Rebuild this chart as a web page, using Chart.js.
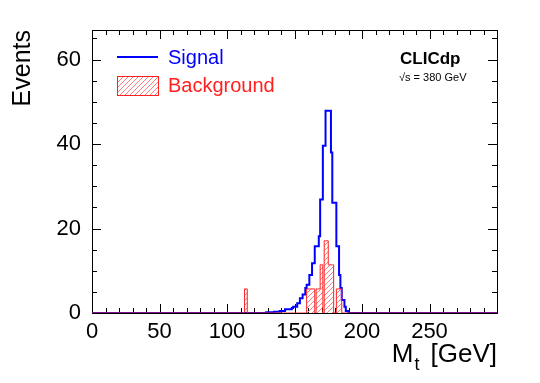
<!DOCTYPE html>
<html lang="en">
<head>
<meta charset="UTF-8">
<title>Reconstructed top mass</title>
<script src="https://cdn.jsdelivr.net/npm/chart.js"></script>
<style>
  html, body { margin: 0; padding: 0; background: #fff; }
  canvas { display: block; }
</style>
</head>
<body>
<canvas id="massChart" width="540" height="383"></canvas>
<script>
// histogram range and binning (GeV)
const histMin = 0;
const histMax = 300;
const binStart = 110;
const binWidth = 1;

// bin contents, one value per 1 GeV bin from binStart (110..199)
const signal = [
  0, 0, 0, 0, 0, 0, 0, 0, 0, 0,
  0, 0, 0, 0, 0, 0, 0, 0, 0, 0,
  0.2, 0.2, 0.2, 0.2, 0.2, 0.2, 0.3, 0.3, 0.3, 0.3,
  0.5, 0.5, 0.5, 0.5, 0.9, 0.9, 0.9, 0.9, 0.9, 1.2,
  1.5, 1.5, 1.5, 2.3, 2.3, 3.5, 3.5, 4.4, 4.4, 5.9,
  6.7, 6.7, 9.0, 9.0, 11.8, 11.8, 15.8, 15.8, 15.8, 18.2,
  26.9, 26.9, 39.6, 39.6, 47.9, 47.9, 47.9, 47.9, 38.0, 26.1,
  26.1, 26.1, 15.8, 15.8, 9.0, 5.9, 3.1, 3.1, 1.5, 0.5,
  0.5, 0, 0, 0, 0, 0, 0, 0, 0, 0
];
const background = [
  0, 0, 0, 0, 5.7, 5.7, 0, 0, 0, 0,
  0, 0, 0, 0, 0, 0, 0, 0, 0, 0,
  0, 0, 0, 0, 0, 0, 0, 0, 0, 0,
  0, 0, 0, 0, 0, 0, 0, 0, 0, 0,
  0, 0, 0, 0, 0, 0, 0, 0, 0, 0,
  5.7, 5.7, 5.7, 5.7, 5.7, 5.7, 0, 5.7, 5.7, 5.7,
  11.4, 11.4, 0, 17.1, 17.1, 17.1, 11.4, 11.4, 11.4, 11.4,
  0, 0, 5.7, 5.7, 5.7, 5.7, 0, 0, 0, 0,
  0, 0, 0, 0, 0, 0, 0, 0, 0, 0
];

const xLabels = [0, 50, 100, 150, 200, 250];
const yLabels = [0, 20, 40, 60];
const yMax = 67;
const xMajor = 50, xMinor = 10;
const yMajor = 20, yMinor = 5;

const FONT = '"Liberation Sans", Arial, Helvetica, sans-serif';

function histPoints(values) {
  const pts = [{ x: histMin, y: 0 }];
  values.forEach((v, i) => pts.push({ x: binStart + i * binWidth, y: v }));
  pts.push({ x: binStart + values.length * binWidth, y: 0 });
  pts.push({ x: histMax, y: 0 });
  return pts;
}

const canvas = document.getElementById('massChart');
const ctx = canvas.getContext('2d');

// "////" hatch like ROOT fill style 3004
function hatch(color) {
  const s = 5;
  const c = document.createElement('canvas');
  c.width = c.height = s;
  const g = c.getContext('2d');
  g.strokeStyle = color;
  g.lineWidth = 1;
  g.beginPath();
  g.moveTo(0, s); g.lineTo(s, 0);
  g.moveTo(-s, s); g.lineTo(s, -s);
  g.moveTo(0, 2 * s); g.lineTo(2 * s, 0);
  g.stroke();
  return ctx.createPattern(c, 'repeat');
}
const bgHatch = hatch('#ff8080');

// frame + inward ticks on all four sides
const framePlugin = {
  id: 'frame',
  beforeDatasetsDraw(chart) {
    const { ctx, chartArea: a, scales: { x, y } } = chart;
    ctx.save();
    ctx.strokeStyle = '#000';
    ctx.lineWidth = 1;
    ctx.beginPath();
    for (let v = histMin; v <= histMax; v += xMinor) {
      const px = Math.round(x.getPixelForValue(v)) + 0.5;
      const len = v % xMajor === 0 ? 9 : 5;
      ctx.moveTo(px, a.bottom); ctx.lineTo(px, a.bottom - len);
      ctx.moveTo(px, a.top); ctx.lineTo(px, a.top + len);
    }
    for (let v = 0; v <= yMax; v += yMinor) {
      const py = Math.round(y.getPixelForValue(v)) + 0.5;
      const len = v % yMajor === 0 ? 9 : 5;
      ctx.moveTo(a.left, py); ctx.lineTo(a.left + len, py);
      ctx.moveTo(a.right, py); ctx.lineTo(a.right - len, py);
    }
    ctx.stroke();
    ctx.strokeRect(a.left + 0.5, a.top + 0.5, a.right - a.left, a.bottom - a.top);
    ctx.restore();
  },
  afterDraw(chart) {
    const { ctx, chartArea: a } = chart;
    ctx.save();
    ctx.fillStyle = '#000';
    // y title
    ctx.font = '25px ' + FONT;
    ctx.translate(30, a.top);
    ctx.rotate(-Math.PI / 2);
    ctx.textAlign = 'right';
    ctx.textBaseline = 'alphabetic';
    ctx.fillText('Events', 0, 0);
    ctx.restore();

    // x title: M_t [GeV]
    ctx.save();
    ctx.fillStyle = '#000';
    ctx.textBaseline = 'alphabetic';
    ctx.font = '26px ' + FONT;
    const gev = '[GeV]';
    const gevX = a.right - ctx.measureText(gev).width;
    ctx.fillText(gev, gevX, 362);
    ctx.font = '18px ' + FONT;
    const tX = gevX - 11 - ctx.measureText('t').width;
    ctx.fillText('t', tX, 370);
    ctx.font = '26px ' + FONT;
    ctx.fillText('M', tX - 1 - ctx.measureText('M').width, 362);

    // CLICdp label
    ctx.font = 'bold 17px ' + FONT;
    ctx.fillText('CLICdp', 400, 64);
    ctx.font = '11px ' + FONT;
    ctx.fillText('\u221As = 380 GeV', 399, 81);

    // legend
    const ds = chart.data.datasets;
    ctx.font = '20px ' + FONT;
    ctx.textBaseline = 'middle';
    ctx.strokeStyle = ds[0].borderColor;
    ctx.lineWidth = 2;
    ctx.beginPath();
    ctx.moveTo(117, 57); ctx.lineTo(158, 57);
    ctx.stroke();
    ctx.fillStyle = ds[0].borderColor;
    ctx.fillText(ds[0].label, 168, 58);

    ctx.fillStyle = ds[1].backgroundColor;
    ctx.fillRect(117, 76, 41, 19);
    ctx.strokeStyle = ds[1].borderColor;
    ctx.lineWidth = 1;
    ctx.strokeRect(117.5, 76.5, 41, 19);
    ctx.fillStyle = ds[1].borderColor;
    ctx.fillText(ds[1].label, 168, 86);
    ctx.restore();
  }
};

new Chart(ctx, {
  type: 'line',
  data: {
    datasets: [
      {
        label: 'Signal',
        data: histPoints(signal),
        stepped: 'after',
        borderColor: '#0000ff',
        borderWidth: 2,
        pointRadius: 0,
        fill: false,
        order: 2
      },
      {
        label: 'Background',
        data: histPoints(background),
        stepped: 'after',
        borderColor: '#ff2020',
        backgroundColor: bgHatch,
        borderWidth: 1,
        pointRadius: 0,
        fill: 'origin',
        order: 1
      }
    ]
  },
  options: {
    responsive: false,
    animation: false,
    layout: { padding: { top: 30, right: 43, left: 0, bottom: 0 } },
    plugins: { legend: { display: false }, tooltip: { enabled: false } },
    scales: {
      x: {
        type: 'linear',
        min: histMin,
        max: histMax,
        grid: { display: false, drawTicks: false },
        border: { display: false },
        afterBuildTicks: s => { s.ticks = xLabels.map(v => ({ value: v })); },
        afterFit: s => { s.height = 70; },
        ticks: {
          color: '#000',
          font: { family: FONT, size: 22 },
          padding: 6,
          maxRotation: 0,
          autoSkip: false
        }
      },
      y: {
        min: 0,
        max: yMax,
        grid: { display: false, drawTicks: false },
        border: { display: false },
        afterBuildTicks: s => { s.ticks = yLabels.map(v => ({ value: v })); },
        afterFit: s => { s.width = 92; },
        ticks: {
          color: '#000',
          font: { family: FONT, size: 22 },
          padding: 11
        }
      }
    }
  },
  plugins: [framePlugin]
});
</script>
</body>
</html>
